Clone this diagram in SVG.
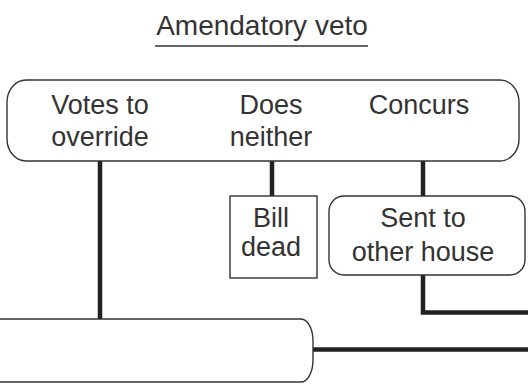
<svg xmlns="http://www.w3.org/2000/svg" width="528" height="384" viewBox="0 0 528 384">
<style>
.box{fill:#fff;stroke:#333;stroke-width:1.4}
.t{font-family:"Liberation Sans",Arial,sans-serif;font-size:27px;fill:#333;text-anchor:middle}
.c{fill:none;stroke:#222;stroke-width:4.5;stroke-linejoin:miter}
</style>
<rect width="528" height="384" fill="#fff"/>
<g id="title">
<text class="t" x="262" y="35" style="font-size:28px">Amendatory veto</text>
<line x1="155" y1="46" x2="368" y2="46" stroke="#333" stroke-width="1.6"/>
</g>
<g id="connectors">
<line class="c" x1="100" y1="161" x2="100" y2="320"/>
<line class="c" x1="272" y1="161" x2="272" y2="197"/>
<line class="c" x1="423" y1="161" x2="423" y2="197"/>
<polyline class="c" points="423,275 423,312.5 530,312.5"/>
<line class="c" x1="313" y1="349.5" x2="530" y2="349.5"/>
</g>
<g id="house-action">
<rect class="box" x="7" y="80" width="512" height="81" rx="19" ry="22"/>
<text class="t" x="100" y="114">Votes to</text>
<text class="t" x="100" y="146">override</text>
<text class="t" x="271" y="114">Does</text>
<text class="t" x="271" y="146">neither</text>
<text class="t" x="419" y="114">Concurs</text>
</g>
<g id="bill-dead">
<rect class="box" x="230" y="196" width="87" height="82"/>
<text class="t" x="271" y="227">Bill</text>
<text class="t" x="271" y="256">dead</text>
</g>
<g id="sent-other-house">
<rect class="box" x="329" y="196" width="196" height="79" rx="15" ry="15"/>
<text class="t" x="423" y="227">Sent to</text>
<text class="t" x="423" y="261">other house</text>
</g>
<g id="bottom-node">
<rect class="box" x="-20" y="319" width="333" height="63" rx="12" ry="22"/>
</g>
</svg>
